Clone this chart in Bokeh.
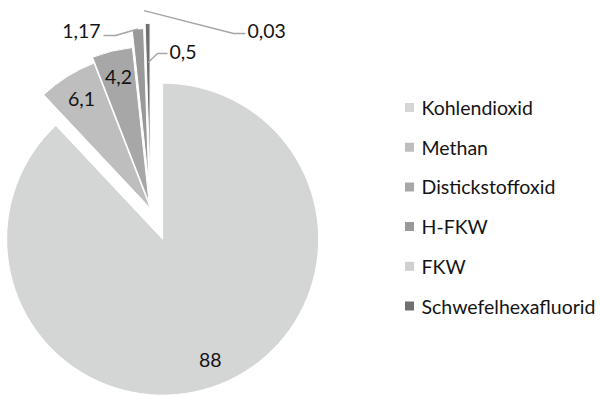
import math
from bokeh.plotting import figure
from bokeh.models import Range1d, ColumnDataSource
from bokeh.core.properties import value
from bokeh.embed import file_html
from bokeh.resources import INLINE

# Anteile der Treibhausgase in Prozent
gase = ["Kohlendioxid", "Methan", "Distickstoffoxid", "H-FKW", "FKW", "Schwefelhexafluorid"]
anteile = [88, 6.1, 4.2, 1.17, 0.03, 0.5]
beschriftung = ["88", "6,1", "4,2", "1,17", "0,03", "0,5"]

# Graustufen der Segmente
farben = ["#d4d5d5", "#bebebe", "#a7a7a7", "#999999", "#d0d0d0", "#707070"]
# Herausziehen der Segmente in Pixel
explode = [33, 0, 6, 24, 42, 29]

W, H = 600, 398
FONT = "Lato"
FS = "19.5px"

p = figure(width=W, height=H, output_backend="svg", toolbar_location=None,
           x_range=Range1d(0, W), y_range=Range1d(0, H),
           x_axis_type=None, y_axis_type=None, min_border=0)
p.outline_line_color = None
p.grid.visible = False
p.background_fill_color = "white"

cx, cy = 150, H - 208   # Mittelpunkt des Kreises
R = 156

total = sum(anteile)
xs, ys, starts, ends, mids = [], [], [], [], []
acc = 0.0
for v, e in zip(anteile, explode):
    t1 = acc / total * 360.0          # im Uhrzeigersinn ab 12 Uhr
    t2 = (acc + v) / total * 360.0
    acc += v
    tm = math.radians((t1 + t2) / 2)
    xs.append(cx + e * math.sin(tm))
    ys.append(cy + e * math.cos(tm))
    starts.append(math.radians(90 - t2))
    ends.append(math.radians(90 - t1))
    mids.append(tm)

src = ColumnDataSource(dict(x=xs, y=ys, s=starts, e=ends, c=farben))
p.wedge(x="x", y="y", radius=R, start_angle="s", end_angle="e",
        direction="anticlock", fill_color="c", line_color="white",
        line_width=1, source=src)

txt_color = "#141414"

# Beschriftungen innerhalb der großen Segmente
inner = [0, 1, 2]
p.text(x=[xs[i] + 0.83 * R * math.sin(mids[i]) for i in inner],
       y=[ys[i] + 0.83 * R * math.cos(mids[i]) for i in inner],
       text=[beschriftung[i] for i in inner],
       text_font=value(FONT), text_font_size=FS, text_color=txt_color,
       text_align="center", text_baseline="middle")

# Beschriftungen außerhalb mit Führungslinien: (Index, Anteil des Radius, Knick, Ende, Ausrichtung, Textposition)
outer = [
    (3, 1.0, (115, 35), (103, 35), "right", (100, 30)),
    (4, 1.0, (233, 33), (245, 33), "left", (247, 30)),
    (5, 0.75, (157, 53), (167, 53), "left", (169, 51)),
]
for i, frac, knick, ende, align, pos in outer:
    sx = xs[i] + frac * R * math.sin(mids[i])
    sy = ys[i] + frac * R * math.cos(mids[i])
    p.line(x=[sx, knick[0], ende[0]], y=[sy, H - knick[1], H - ende[1]],
           line_color="#a6a6a6", line_width=1.5)
    p.text(x=[pos[0]], y=[H - pos[1]], text=[beschriftung[i]],
           text_font=value(FONT), text_font_size=FS, text_color=txt_color,
           text_align=align, text_baseline="middle")

# Legende
leg_y0, leg_dy = 107, 39.7
leg_y = [H - (leg_y0 + k * leg_dy) for k in range(len(gase))]
p.rect(x=[409] * len(gase), y=leg_y, width=9, height=9, fill_color=farben,
       line_color=None)
p.text(x=[421] * len(gase), y=leg_y, text=gase,
       text_font=value(FONT), text_font_size=FS, text_color=txt_color,
       text_align="left", text_baseline="middle")

open("out.html", "w").write(file_html(p, INLINE))
